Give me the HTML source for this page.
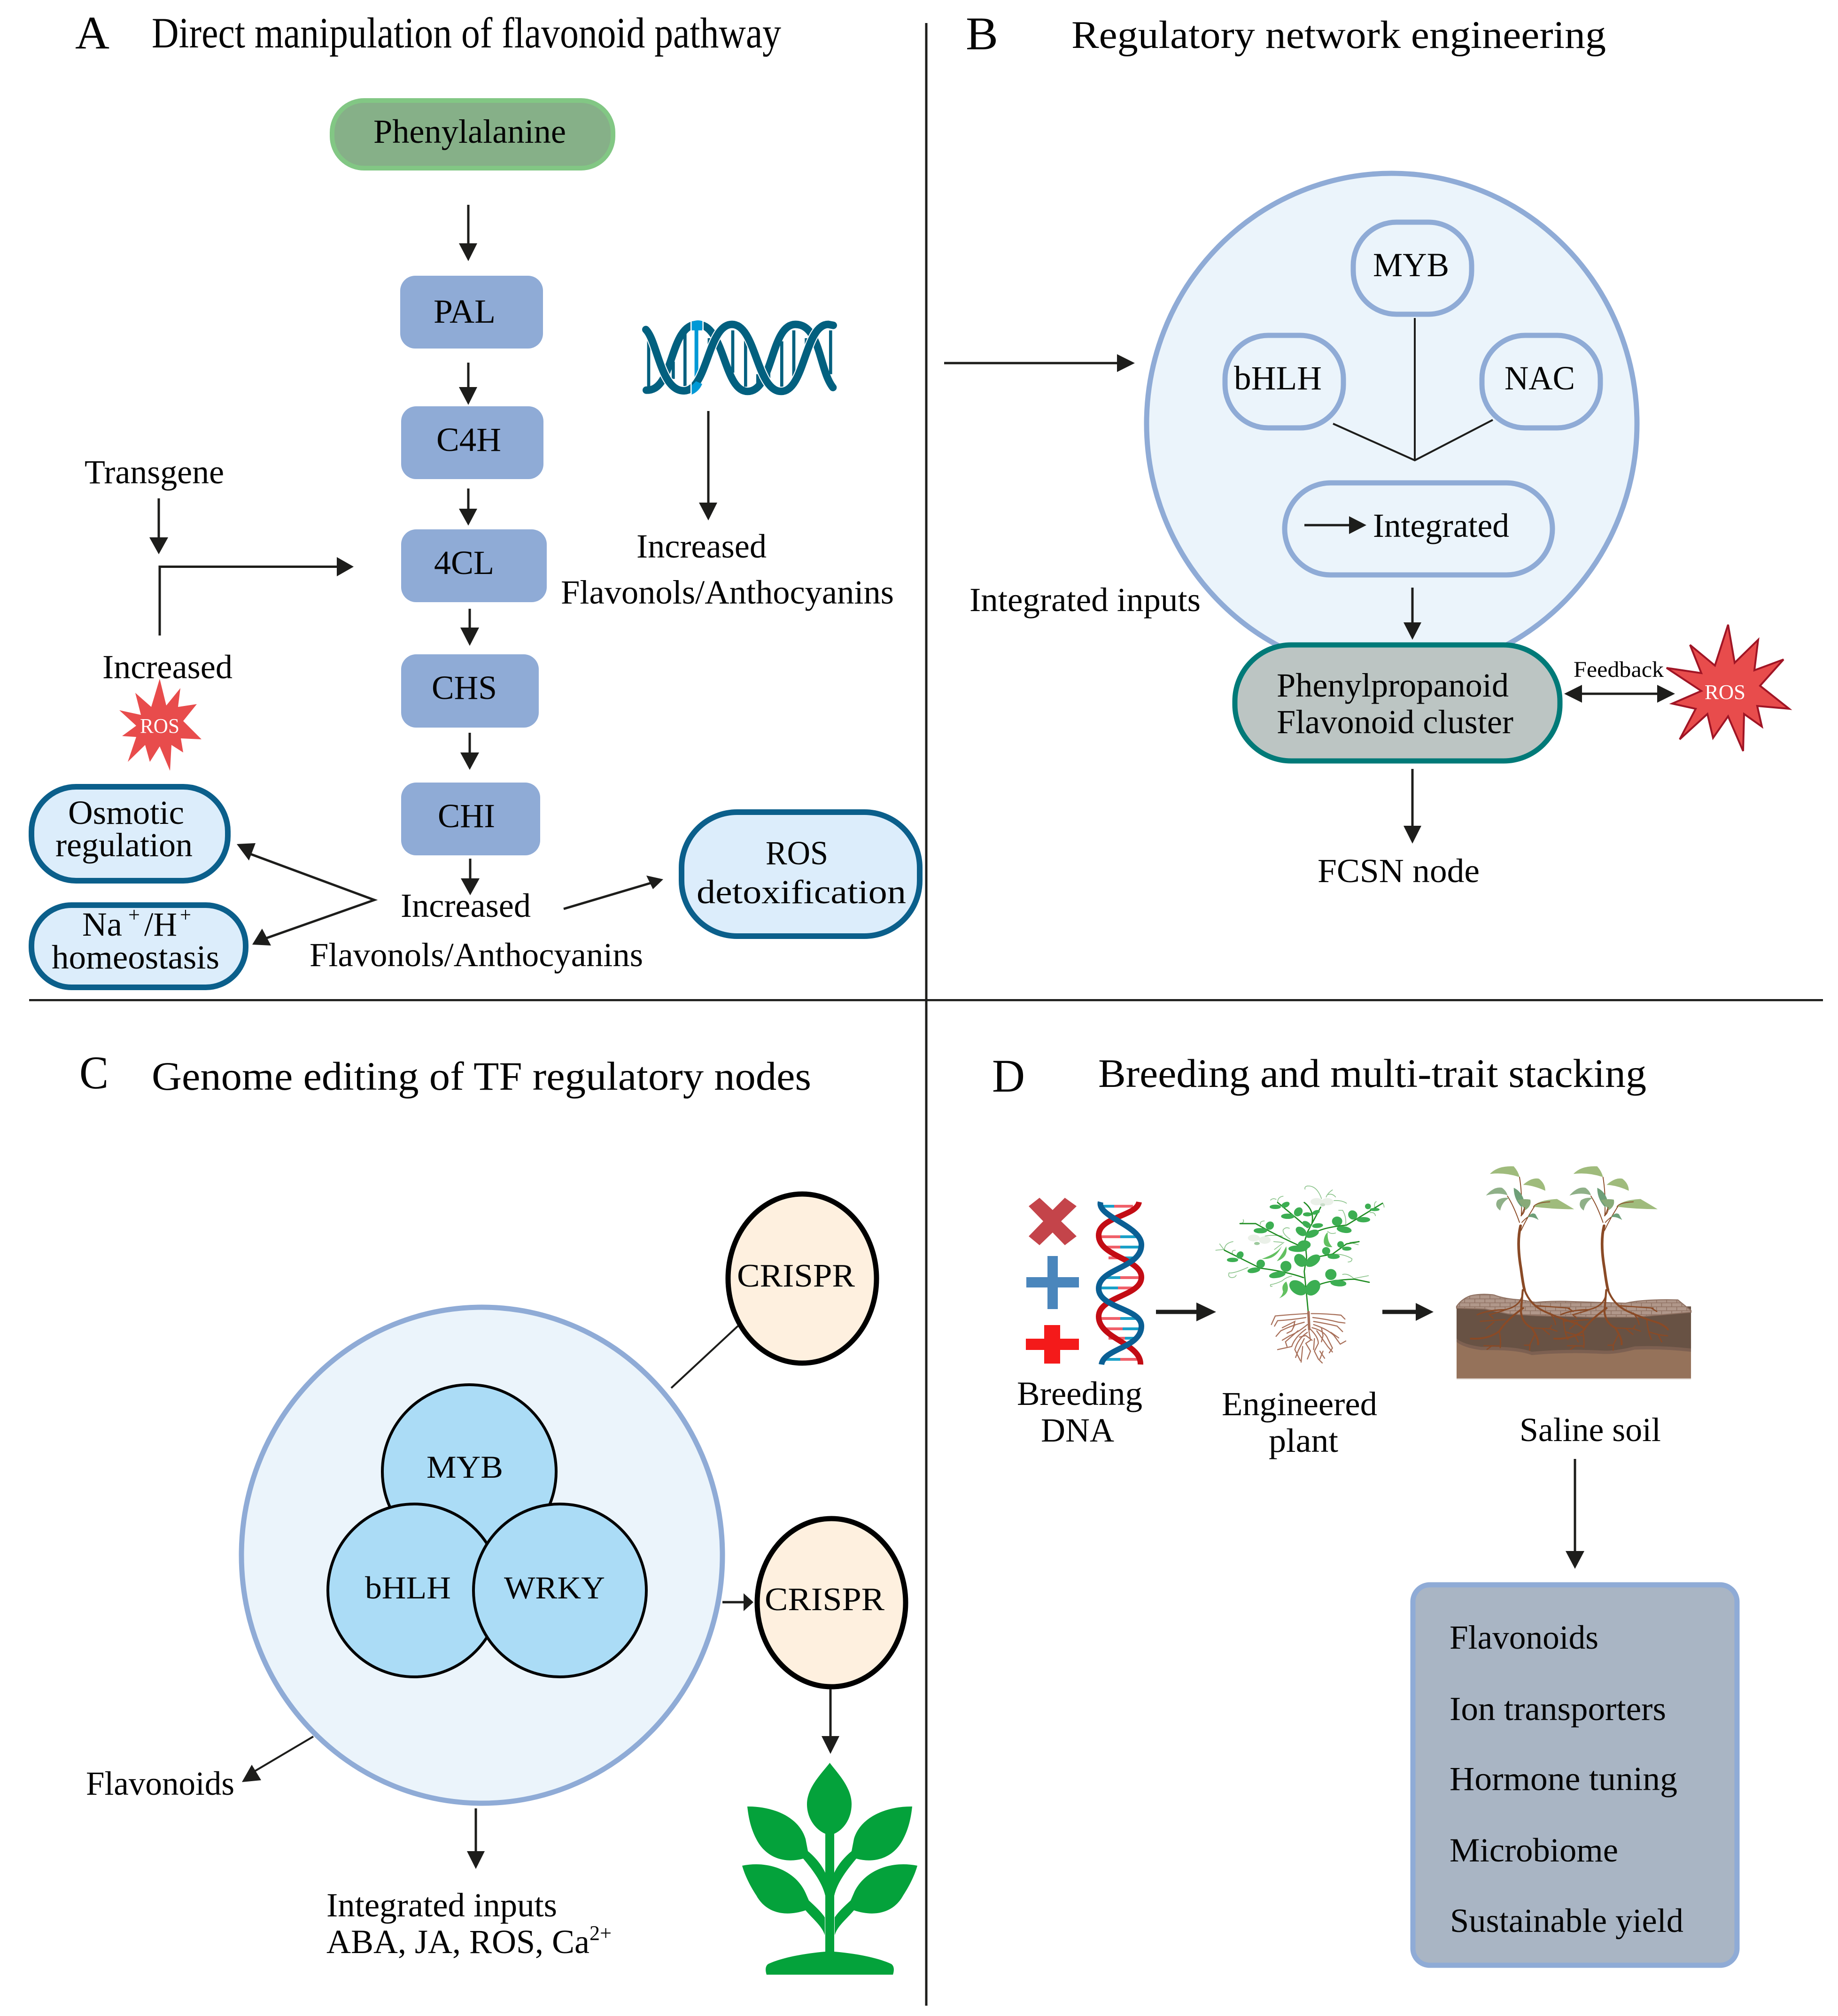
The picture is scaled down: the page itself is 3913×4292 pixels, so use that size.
<!DOCTYPE html>
<html><head><meta charset="utf-8"><title>Flavonoid pathway engineering</title>
<style>
html,body{margin:0;padding:0;background:#fff}
svg{display:block}
text{font-family:"Liberation Serif","Times New Roman",serif;fill:#050505;font-size:72px;transform:translate(-2px,1px)}
.t{font-size:86px}.L{font-size:100px}
.w{fill:#fff;font-size:44px}
.s{font-size:44px}
.ln{stroke:#1d1d1b;stroke-width:5;fill:none}
.h{fill:#1d1d1b}
.en{fill:#8fabd6}
.bl{fill:#dcedfb;stroke:#0b5f8b;stroke-width:12}
.rg{fill:#ebf4fb;stroke:#8fabd6;stroke-width:11}
.cr{fill:#fef0df;stroke:#000;stroke-width:11}
.tf{fill:#abdcf6;stroke:#000;stroke-width:6}
.lf{fill:#3cae52;stroke:#3cae52;stroke-width:6}
.st{stroke:#1f8c22;stroke-width:8;fill:none;stroke-linecap:round}
.td{stroke:#8cc48c;stroke-width:5;fill:none;stroke-linecap:round}
.rt{stroke:#a8705a;fill:none;stroke-width:7;stroke-linecap:round}
.r2{stroke:#8a4a26;fill:none;stroke-linecap:round}
</style></head>
<body>
<svg xmlns="http://www.w3.org/2000/svg" width="3913" height="4292" viewBox="0 0 3913 4292">
<defs>
<pattern id="brick" width="56" height="48" patternUnits="userSpaceOnUse">
<rect width="56" height="48" fill="#8f7162"/>
<rect x="2" y="2" width="52" height="20" fill="#b0978a"/>
<rect x="-26" y="26" width="52" height="20" fill="#b0978a"/>
<rect x="30" y="26" width="52" height="20" fill="#b0978a"/>
</pattern>
</defs>
<rect width="3913" height="4292" fill="#fff"/>

<!-- dividers -->
<rect x="1969.5" y="49" width="5" height="4221" fill="#1d1d1b"/>
<rect x="62" y="2127" width="3819" height="4.5" fill="#1d1d1b"/>

<!-- PANEL A -->
<text class="L" x="162" y="102" textLength="73" lengthAdjust="spacingAndGlyphs">A</text>
<text x="325" y="100" style="font-size:92px" textLength="1340" lengthAdjust="spacingAndGlyphs">Direct manipulation of flavonoid pathway</text>

<rect x="707" y="214" width="598" height="144" rx="68" fill="#86b088" stroke="#82c784" stroke-width="10"/>
<text x="797" y="303" textLength="410" lengthAdjust="spacingAndGlyphs">Phenylalanine</text>

<path class="ln" d="M997 436V525M997 772V830M997 1040V1090M1508 875V1075M338 1061V1150M1000 1296V1342M1000 1560V1608M1001 1828V1876"/>
<polygon class="h" points="977,518 1016,518 997,556"/>
<polygon class="h" points="977,824 1016,824 997,862"/>
<polygon class="h" points="977,1083 1016,1083 997,1119"/>
<polygon class="h" points="1488,1070 1527,1070 1508,1108"/>
<polygon class="h" points="318,1144 358,1144 338,1180"/>
<polygon class="h" points="980,1336 1020,1336 1000,1375"/>
<polygon class="h" points="980,1602 1020,1602 1000,1639"/>
<polygon class="h" points="981,1870 1021,1870 1001,1906"/>

<rect class="en" x="852" y="587" width="304" height="155" rx="32"/>
<text x="925" y="686" textLength="132" lengthAdjust="spacingAndGlyphs">PAL</text>
<rect class="en" x="854" y="865" width="303" height="155" rx="32"/>
<text x="931" y="959" textLength="138" lengthAdjust="spacingAndGlyphs">C4H</text>
<rect class="en" x="854" y="1127" width="310" height="155" rx="32"/>
<text x="926" y="1221" textLength="128" lengthAdjust="spacingAndGlyphs">4CL</text>
<rect class="en" x="854" y="1393" width="293" height="156" rx="32"/>
<text x="921" y="1487" textLength="139" lengthAdjust="spacingAndGlyphs">CHS</text>
<rect class="en" x="854" y="1666" width="296" height="155" rx="32"/>
<text x="934" y="1760" textLength="122" lengthAdjust="spacingAndGlyphs">CHI</text>

<!-- DNA logo -->
<g transform="translate(1300,620) scale(.3333)">
<g stroke="#02607f" stroke-width="20" fill="none">
<path d="M243 290V610M400 450V560M475 270V610M630 300V390M780 250V520M862 300V610M940 530V610M1010 480V560M1093 320V610M1170 250V590M1250 300V400M1405 250V530"/>
</g>
<path d="M548 240V590" stroke="#0099d6" stroke-width="24" fill="none"/>
<path d="M228 632C410 640 370 212 555 212C730 212 720 640 875 640C1040 640 1020 212 1180 212C1340 212 1330 500 1420 615" stroke="#02607f" stroke-width="48" fill="none" stroke-linecap="round"/>
<path d="M225 245C300 320 320 640 470 636C620 632 620 212 775 212C930 212 930 640 1090 640C1240 640 1240 212 1390 212L1422 218" stroke="#fff" stroke-width="60" fill="none"/>
<path d="M225 245C300 320 320 640 470 636C620 632 620 212 775 212C930 212 930 640 1090 640C1240 640 1240 212 1390 212L1422 218" stroke="#02607f" stroke-width="48" fill="none" stroke-linecap="round"/>
<rect x="510" y="186" width="8" height="480" fill="#fff"/>
<rect x="586" y="186" width="8" height="80" fill="#fff"/>
<path d="M518 196Q550 180 585 190V250H518Z" fill="#0099d6"/>
<path d="M518 602L545 575L585 592Q565 640 518 660Z" fill="#0099d6"/>
</g>

<text x="1357" y="1186" textLength="277" lengthAdjust="spacingAndGlyphs">Increased</text>
<text x="1196" y="1284" textLength="709" lengthAdjust="spacingAndGlyphs">Flavonols/Anthocyanins</text>
<text x="182" y="1028" textLength="297" lengthAdjust="spacingAndGlyphs">Transgene</text>

<path class="ln" d="M340 1353V1206.5H720"/>
<polygon class="h" points="717,1186 753,1206.5 717,1227"/>
<text x="220" y="1443" textLength="277" lengthAdjust="spacingAndGlyphs">Increased</text>

<polygon fill="#e84c4c" points="340,1445 354,1502 384,1465 379,1505 419,1499 390,1535 429,1574 385,1572 390,1602 365,1586 362,1641 340,1589 319,1622 309,1586 272,1622 290,1569 260,1567 290,1545 254,1512 300,1522 288,1475 322,1505"/>
<text class="w" x="300" y="1559" textLength="84" lengthAdjust="spacingAndGlyphs">ROS</text>

<rect class="bl" x="67" y="1675" width="418" height="200" rx="95"/>
<text x="147" y="1753" textLength="247" lengthAdjust="spacingAndGlyphs">Osmotic</text>
<text x="120" y="1822" textLength="292" lengthAdjust="spacingAndGlyphs">regulation</text>
<rect class="bl" x="67" y="1927" width="456" height="175" rx="85"/>
<text x="177" y="1991" textLength="85" lengthAdjust="spacingAndGlyphs">Na</text>
<text class="s" x="275" y="1961" textLength="25" lengthAdjust="spacingAndGlyphs">+</text>
<text x="309" y="1991" textLength="70" lengthAdjust="spacingAndGlyphs">/H</text>
<text class="s" x="385" y="1961" textLength="24" lengthAdjust="spacingAndGlyphs">+</text>
<text x="112" y="2061" textLength="357" lengthAdjust="spacingAndGlyphs">homeostasis</text>

<rect class="bl" x="1451" y="1729" width="507" height="264" rx="118"/>
<text x="1632" y="1839" textLength="133" lengthAdjust="spacingAndGlyphs">ROS</text>
<text x="1485" y="1922" textLength="446" lengthAdjust="spacingAndGlyphs">detoxification</text>

<path class="ln" d="M530 1817L797 1916L565 1998M1200 1935L1385 1880"/>
<polygon class="h" points="504,1797 544,1795 530,1832"/>
<polygon class="h" points="537,2011 558,1977 577,2013"/>
<polygon class="h" points="1412,1872 1376,1864 1390,1893"/>
<text x="855" y="1951" textLength="277" lengthAdjust="spacingAndGlyphs">Increased</text>
<text x="661" y="2056" textLength="710" lengthAdjust="spacingAndGlyphs">Flavonols/Anthocyanins</text>

<!-- PANEL B -->
<text class="L" x="2058" y="104" textLength="69" lengthAdjust="spacingAndGlyphs">B</text>
<text x="2283" y="101" style="font-size:84px" textLength="1138" lengthAdjust="spacingAndGlyphs">Regulatory network engineering</text>

<path class="ln" d="M2010 773H2385"/>
<polygon class="h" points="2378,754 2416,773 2378,792"/>

<ellipse class="rg" cx="2963" cy="902" rx="522" ry="533"/>
<rect class="rg" x="2881" y="473" width="252" height="196" rx="92"/>
<text x="2925" y="587" textLength="162" lengthAdjust="spacingAndGlyphs">MYB</text>
<rect class="rg" x="2608" y="714" width="252" height="197" rx="92"/>
<text x="2629" y="828" textLength="187" lengthAdjust="spacingAndGlyphs">bHLH</text>
<rect class="rg" x="3155" y="714" width="252" height="197" rx="92"/>
<text x="3205" y="828" textLength="150" lengthAdjust="spacingAndGlyphs">NAC</text>
<path class="ln" d="M3012 677V980M2838 902L3012 980L3178 894" style="stroke-width:4"/>
<rect class="rg" x="2735" y="1028" width="570" height="196" rx="98"/>
<path class="ln" d="M2777 1118H2880"/>
<polygon class="h" points="2872,1099 2909,1118 2872,1137"/>
<text x="2925" y="1142" textLength="290" lengthAdjust="spacingAndGlyphs">Integrated</text>
<path class="ln" d="M3007 1251V1330"/>
<polygon class="h" points="2988,1325 3026,1325 3007,1362"/>
<text x="2066" y="1300" textLength="492" lengthAdjust="spacingAndGlyphs">Integrated inputs</text>

<rect x="2629" y="1373" width="692" height="247" rx="120" fill="#bcc5c3" stroke="#007a78" stroke-width="11"/>
<text x="2720" y="1482" textLength="494" lengthAdjust="spacingAndGlyphs">Phenylpropanoid</text>
<text x="2720" y="1560" textLength="504" lengthAdjust="spacingAndGlyphs">Flavonoid cluster</text>

<path class="ln" d="M3360 1477H3535"/>
<polygon class="h" points="3330,1477 3368,1458 3368,1496"/>
<polygon class="h" points="3566,1477 3528,1458 3528,1496"/>
<text x="3352" y="1440" style="font-size:48px" textLength="192" lengthAdjust="spacingAndGlyphs">Feedback</text>
<polygon fill="#e84c4c" stroke="#a01525" stroke-width="4" points="3679,1330 3693,1411 3743,1362 3735,1427 3797,1404 3747,1460 3809,1509 3741,1503 3751,1547 3713,1520 3711,1599 3679,1525 3647,1571 3635,1520 3576,1574 3610,1509 3560,1498 3622,1471 3548,1422 3622,1433 3598,1373 3651,1417"/>
<text class="w" x="3631" y="1487" textLength="87" lengthAdjust="spacingAndGlyphs">ROS</text>
<path class="ln" d="M3007 1637V1765"/>
<polygon class="h" points="2988,1758 3026,1758 3007,1796"/>
<text x="2807" y="1877" textLength="345" lengthAdjust="spacingAndGlyphs">FCSN node</text>

<!-- PANEL C -->
<text class="L" x="171" y="2316" textLength="62" lengthAdjust="spacingAndGlyphs">C</text>
<text class="t" x="325" y="2319" textLength="1404" lengthAdjust="spacingAndGlyphs">Genome editing of TF regulatory nodes</text>

<ellipse class="rg" cx="1026" cy="3311" rx="512" ry="528"/>
<circle class="tf" cx="999" cy="3133" r="185"/>
<text x="910" y="3145" style="font-size:68px" textLength="163" lengthAdjust="spacingAndGlyphs">MYB</text>
<circle class="tf" cx="882" cy="3386" r="184"/>
<text x="779" y="3402" style="font-size:68px" textLength="183" lengthAdjust="spacingAndGlyphs">bHLH</text>
<circle class="tf" cx="1192" cy="3386" r="184"/>
<text x="1075" y="3402" style="font-size:68px" textLength="215" lengthAdjust="spacingAndGlyphs">WRKY</text>

<ellipse class="cr" cx="1708" cy="2722" rx="158" ry="180"/>
<text x="1571" y="2738" style="font-size:70px" textLength="251" lengthAdjust="spacingAndGlyphs">CRISPR</text>
<path class="ln" d="M1429 2955L1571 2823" style="stroke-width:4"/>

<path class="ln" d="M1538 3411H1590"/>
<polygon class="h" points="1583,3392 1604,3411 1583,3430"/>
<ellipse class="cr" cx="1770" cy="3412" rx="158" ry="179"/>
<text x="1630" y="3427" style="font-size:70px" textLength="255" lengthAdjust="spacingAndGlyphs">CRISPR</text>
<path class="ln" d="M1768 3596V3705"/>
<polygon class="h" points="1749,3696 1787,3696 1768,3734"/>

<!-- green plant -->
<g fill="#04a23b">
<path d="M1766.5 3753C1750 3775 1718 3805 1718 3841C1718 3875 1740 3897 1757 3904V4155C1700 4160 1660 4170 1636 4181C1629 4185 1629 4195 1632 4204H1901C1904 4195 1904 4185 1897 4181C1873 4170 1833 4160 1776 4155V3904C1793 3897 1813 3875 1813 3841C1813 3805 1783 3775 1766.5 3753Z"/>
<path d="M1591 3846C1640 3845 1700 3865 1715 3915L1720 3941C1737 3955 1750 3972 1757 3987V4036C1750 4005 1725 3975 1710 3957C1670 3968 1630 3955 1610 3915C1597 3890 1593 3865 1591 3846Z"/>
<path d="M1580 3972C1640 3960 1695 3985 1715 4030L1722 4046C1735 4058 1748 4070 1756 4082V4120C1750 4100 1730 4085 1715 4067C1670 4082 1630 4072 1610 4035C1595 4012 1585 3990 1580 3972Z"/>
<path d="M1942 3846C1893 3845 1833 3865 1818 3915L1813 3941C1796 3955 1783 3972 1776 3987V4036C1783 4005 1808 3975 1823 3957C1863 3968 1903 3955 1923 3915C1936 3890 1940 3865 1942 3846Z"/>
<path d="M1953 3972C1893 3960 1838 3985 1818 4030L1811 4046C1798 4058 1785 4070 1777 4082V4120C1783 4100 1803 4085 1818 4067C1863 4082 1903 4072 1923 4035C1938 4012 1948 3990 1953 3972Z"/>
</g>

<text x="185" y="3820" textLength="316" lengthAdjust="spacingAndGlyphs">Flavonoids</text>
<path class="ln" d="M667 3697L530 3778" style="stroke-width:4"/>
<polygon class="h" points="515,3794 536,3757 556,3790"/>
<path class="ln" d="M1013 3850V3950"/>
<polygon class="h" points="994,3941 1032,3941 1013,3979"/>
<text x="697" y="4079" textLength="491" lengthAdjust="spacingAndGlyphs">Integrated inputs</text>
<text x="697" y="4157" textLength="560" lengthAdjust="spacingAndGlyphs">ABA, JA, ROS, Ca</text>
<text class="s" x="1257" y="4129" textLength="47" lengthAdjust="spacingAndGlyphs">2+</text>

<!-- PANEL D -->
<text class="L" x="2114" y="2323" textLength="70" lengthAdjust="spacingAndGlyphs">D</text>
<text class="t" x="2340" y="2313" textLength="1167" lengthAdjust="spacingAndGlyphs">Breeding and multi-trait stacking</text>

<polygon fill="#c4444a" points="2213,2550 2241,2576 2267,2550 2292,2568 2259,2600 2292,2632 2267,2651 2241,2624 2213,2651 2190,2632 2221,2600 2190,2568"/>
<path fill="#4a86bc" d="M2230 2674H2252V2719H2297V2741H2252V2787H2230V2741H2185V2719H2230Z"/>
<path fill="#f41a1a" d="M2223 2821H2257V2850H2297V2874H2257V2903H2223V2874H2184V2850H2223Z"/>

<!-- helix -->
<g stroke-width="6">
<path stroke="#1aa0c8" d="M2345 2568H2372M2385 2633H2425M2385 2655H2430M2395 2678H2420M2345 2720H2385M2345 2742H2380M2385 2807H2425M2390 2829H2430M2395 2849H2420M2345 2894H2385"/>
<path stroke="#f0606a" d="M2372 2568H2412M2345 2633H2385M2345 2655H2385M2360 2678H2395M2385 2720H2425M2380 2742H2420M2345 2807H2385M2345 2829H2390M2360 2849H2395M2385 2894H2425"/>
</g>
<path d="M2425 2559C2420 2590 2339 2590 2339 2630C2339 2675 2430 2680 2430 2719C2430 2760 2339 2760 2339 2803C2339 2850 2430 2860 2428 2905" fill="none" stroke="#c30c14" stroke-width="12"/>
<path d="M2343 2559C2335 2590 2430 2610 2430 2650C2430 2700 2339 2700 2339 2743C2339 2785 2430 2785 2430 2823C2430 2870 2350 2870 2345 2905" fill="none" stroke="#0a5f94" stroke-width="12"/>

<path d="M2461 2793H2550" stroke="#1d1d1b" stroke-width="9"/>
<polygon class="h" points="2547,2773 2589,2793 2547,2813"/>
<path d="M2943 2793H3018" stroke="#1d1d1b" stroke-width="9"/>
<polygon class="h" points="3014,2774 3052,2793 3014,2812"/>

<text x="2167" y="2990" textLength="267" lengthAdjust="spacingAndGlyphs">Breeding</text>
<text x="2218" y="3068" textLength="156" lengthAdjust="spacingAndGlyphs">DNA</text>
<text x="2603" y="3012" textLength="331" lengthAdjust="spacingAndGlyphs">Engineered</text>
<text x="2703" y="3090" textLength="148" lengthAdjust="spacingAndGlyphs">plant</text>
<text x="3237" y="3067" textLength="301" lengthAdjust="spacingAndGlyphs">Saline soil</text>

<!-- pea plant -->
<g transform="translate(2550,2480) scale(.3333)">
<g class="td">
<path d="M790 215Q760 130 700 135Q680 140 685 155M820 205Q830 180 860 160M830 190Q860 180 880 205M870 228Q920 225 950 245"/>
<path d="M510 240Q510 205 545 200M500 220Q480 210 465 225M1180 245Q1190 255 1190 270M1130 270Q1125 240 1140 235M1100 305Q1130 300 1135 325"/>
<path d="M945 385Q950 330 925 290L900 290M270 375Q300 370 290 350M400 380Q395 360 425 358"/>
<path d="M590 475Q540 440 545 415Q560 395 585 405M430 455Q480 445 540 455"/>
<path d="M170 545Q170 500 225 490M115 545L170 540M225 575Q210 545 240 545M140 505L170 545"/>
<path d="M320 655Q230 695 200 690Q190 715 215 720Q240 720 245 705M540 495L485 490M490 540L550 495"/>
<path d="M600 710Q560 720 540 740Q500 760 465 765Q460 780 475 775M1000 730Q960 690 925 700M1000 725L1090 708"/>
<path d="M870 570Q940 570 985 600Q985 620 960 620M1030 490L970 495L1025 510M830 425Q850 445 880 435"/>
</g>
<g class="st">
<path d="M705 935L695 830L680 680L695 590L685 480L700 430L785 270"/>
<path d="M675 720Q560 680 400 660L260 590L170 545"/>
<path d="M680 530Q500 450 370 375L270 375"/>
<path d="M700 400L630 340L510 240"/>
<path d="M730 370Q745 290 680 240"/>
<path d="M720 450Q780 400 950 385L1180 245"/>
<path d="M775 765Q850 735 1000 730L1095 750"/>
<path d="M780 585L860 570L950 505L1030 490"/>
</g>
<g class="lf">
<ellipse cx="640" cy="785" rx="58" ry="38" transform="rotate(35 640 785)"/>
<ellipse cx="735" cy="785" rx="52" ry="38" transform="rotate(-50 735 785)"/>
<ellipse cx="655" cy="610" rx="42" ry="32" transform="rotate(50 655 610)"/>
<ellipse cx="735" cy="612" rx="50" ry="28" transform="rotate(-35 735 612)"/>
<ellipse cx="640" cy="535" rx="58" ry="18"/>
<ellipse cx="680" cy="510" rx="38" ry="25"/>
<ellipse cx="660" cy="425" rx="35" ry="22" transform="rotate(35 660 425)"/>
<ellipse cx="730" cy="440" rx="42" ry="20" transform="rotate(-20 730 440)"/>
<ellipse cx="695" cy="380" rx="27" ry="15" transform="rotate(30 695 380)"/>
<ellipse cx="765" cy="388" rx="32" ry="12" transform="rotate(-5 765 388)"/>
<ellipse cx="495" cy="268" rx="33" ry="11"/>
<ellipse cx="560" cy="255" rx="25" ry="14" transform="rotate(-25 560 255)"/>
<ellipse cx="575" cy="328" rx="40" ry="14"/>
<ellipse cx="642" cy="300" rx="28" ry="22" transform="rotate(-50 642 300)"/>
<ellipse cx="700" cy="316" rx="25" ry="10"/>
<ellipse cx="755" cy="303" rx="22" ry="10" transform="rotate(-20 755 303)"/>
<ellipse cx="890" cy="360" rx="30" ry="27"/>
<ellipse cx="935" cy="413" rx="45" ry="18" transform="rotate(10 935 413)"/>
<ellipse cx="990" cy="320" rx="28" ry="25" transform="rotate(45 990 320)"/>
<ellipse cx="1058" cy="350" rx="40" ry="14"/>
<ellipse cx="1087" cy="265" rx="16" ry="15"/>
<ellipse cx="1130" cy="285" rx="28" ry="7"/>
<ellipse cx="460" cy="388" rx="25" ry="22" transform="rotate(-45 460 388)"/>
<ellipse cx="400" cy="420" rx="40" ry="14"/>
<ellipse cx="270" cy="576" rx="22" ry="18" transform="rotate(-50 270 576)"/>
<ellipse cx="222" cy="607" rx="33" ry="11"/>
<ellipse cx="402" cy="632" rx="24" ry="24"/>
<ellipse cx="358" cy="673" rx="38" ry="14" transform="rotate(-10 358 673)"/>
<ellipse cx="563" cy="648" rx="32" ry="32"/>
<ellipse cx="508" cy="702" rx="50" ry="17" transform="rotate(-10 508 702)"/>
<ellipse cx="850" cy="700" rx="33" ry="32"/>
<ellipse cx="898" cy="755" rx="48" ry="18" transform="rotate(5 898 755)"/>
<ellipse cx="820" cy="550" rx="23" ry="22"/>
<ellipse cx="868" cy="585" rx="36" ry="13"/>
<ellipse cx="912" cy="508" rx="18" ry="18"/>
<ellipse cx="952" cy="535" rx="27" ry="10"/>
</g>
<g fill="#62c060">
<path d="M410 600Q510 590 535 510Q515 580 410 600ZM410 600Q500 610 540 510Q520 560 410 600Z"/>
<path d="M505 615Q580 590 565 520Q540 570 505 615Z"/>
<path d="M520 852Q600 820 565 745Q530 770 545 810Q540 835 520 852Z"/>
<path d="M860 525Q800 530 805 480Q810 445 830 430Q825 490 860 525Z"/>
</g>
<g fill="#eaf0e8">
<ellipse cx="760" cy="235" rx="40" ry="23"/><ellipse cx="828" cy="235" rx="38" ry="23"/>
<ellipse cx="358" cy="467" rx="38" ry="22"/><ellipse cx="428" cy="480" rx="38" ry="24"/>
</g>
<ellipse cx="378" cy="502" rx="18" ry="10" fill="#9cc99c"/>
<ellipse cx="798" cy="255" rx="16" ry="10" fill="#c8dcc8"/>
<g class="rt">
<path style="stroke-width:16" d="M707 940L712 1050"/>
<path d="M700 950Q600 955 495 965L470 1020M690 975Q600 990 510 995L490 1030M680 1005Q600 1025 530 1060L500 1095"/>
<path d="M725 950Q820 950 915 960L940 985M735 975Q820 985 900 1005L940 1010M740 1000Q830 1015 890 1030L925 1065"/>
<path d="M700 1020Q640 1070 590 1090L540 1120M690 1050Q620 1100 600 1160L510 1180M700 1070Q640 1110 620 1180L655 1250"/>
<path d="M720 1050Q770 1100 770 1140L745 1190L770 1240L795 1265M730 1040Q810 1060 830 1110L860 1170L840 1200M740 1020Q830 1050 870 1090L910 1145L945 1125"/>
<path d="M710 1060L720 1120L690 1140L720 1190L700 1240M650 1100L690 1090L730 1120M670 1160L660 1260M780 1190L810 1235M540 1040L620 1000L610 1040M850 1070L900 1105"/>
<path d="M620 1020L600 1060L570 1075M790 1040L800 1090L790 1130M640 1060L560 1130L570 1160M760 1060L830 1160L860 1195M680 1110L640 1190L625 1230M745 1110L740 1180M800 1190L780 1240"/>
</g>
</g>

<!-- soil -->
<g transform="translate(3000,2420) scale(.3839,.3509)">
<path fill="#95725a" d="M263 1230H1563V1470H263Z"/>
<rect x="263" y="1466" width="1300" height="6" fill="#d8cdc6"/>
<path fill="#7d6051" d="M263 1030H1563V1305Q1400 1285 1250 1292Q1150 1320 1080 1318Q870 1305 680 1325Q600 1290 400 1295Q300 1280 263 1245Z"/>
<path fill="#685244" d="M263 1030H1563V1285Q1400 1265 1250 1272Q1150 1300 1080 1298Q870 1285 680 1305Q600 1270 400 1275Q300 1260 263 1225Z"/>
<path fill="url(#brick)" stroke="#8f7162" stroke-width="6" d="M263 1030Q290 985 340 965Q400 950 470 960Q530 985 620 990L700 1005Q800 995 900 1000L1200 1010Q1300 985 1490 990L1563 1055V1065L1250 1095L1000 1095L700 1085L550 1075L420 1045L263 1040Z"/>
<defs>
<g id="sd">
<g class="r2" style="stroke-width:15">
<path d="M618 540Q595 640 620 800Q632 900 640 930"/>
</g>
<g class="r2" style="stroke-width:7">
<path style="stroke-width:8" d="M630 950Q620 1030 530 1050Q440 1050 378 1080"/>
<path style="stroke-width:11" d="M632 1040Q540 1110 500 1180Q440 1230 342 1225"/>
<path d="M500 1180Q510 1240 505 1280M505 1270L415 1268M460 1268L432 1290M530 1110L395 1120M470 1125L428 1165M525 1055L445 1080L465 1100"/>
<path style="stroke-width:11" d="M630 930L620 1060Q625 1130 680 1160Q720 1230 715 1260"/>
<path d="M680 1160L780 1165L820 1180M740 1165L778 1200M790 1145L780 1165M695 1205L670 1260L668 1295M670 1265L640 1265"/>
<path style="stroke-width:11" d="M640 930Q670 1020 750 1060Q830 1100 920 1130Q960 1150 972 1170"/>
<path d="M780 1070Q810 1110 812 1140M855 1110Q860 1180 880 1230M870 1185Q920 1205 970 1208M920 1205L938 1245M700 1025L890 1040M880 1040L910 1060"/>
<path style="stroke-width:5" d="M612 520Q580 420 545 360M622 480Q628 350 612 245M620 570Q650 500 685 440Q700 400 780 395M620 480Q645 460 640 420M625 520Q650 490 670 480"/>
</g>
<path fill="#9fbb7c" d="M448 226Q490 175 580 180Q605 210 612 245Q530 215 448 226Z"/>
<path fill="#9fbb7c" d="M632 292Q680 245 720 255Q755 285 755 328Q690 295 632 292Z"/>
<path fill="#8fb088" d="M426 357Q470 300 515 310Q540 330 545 355Q490 335 426 357Z"/>
<path fill="#8fb088" d="M505 448Q470 420 490 385Q520 365 555 372Q515 395 505 448Z"/>
<path fill="#6e9f78" d="M580 310Q620 330 635 380Q630 410 625 430Q580 380 580 310Z"/>
<path fill="#88aa78" d="M600 385Q640 375 672 382Q680 420 645 445Q620 410 600 385Z"/>
<path fill="#9fbb7c" d="M690 425Q710 385 820 378Q870 410 915 440Q800 440 690 425Z"/>
<path fill="#6e9f78" d="M655 490Q680 455 700 470L718 505Q680 480 655 490Z"/>
<path class="r2" style="stroke-width:5" d="M690 425Q700 400 780 395M622 480L640 430"/>
</g>
</defs>
<use href="#sd"/>
<use href="#sd" x="463"/>
</g>

<path class="ln" d="M3353 3106V3310"/>
<polygon class="h" points="3333,3302 3373,3302 3353,3340"/>
<rect x="3008" y="3374" width="690" height="810" rx="36" fill="#a9b5c4" stroke="#8fabd6" stroke-width="11"/>
<text x="3088" y="3509" textLength="317" lengthAdjust="spacingAndGlyphs">Flavonoids</text>
<text x="3088" y="3661" textLength="461" lengthAdjust="spacingAndGlyphs">Ion transporters</text>
<text x="3088" y="3810" textLength="485" lengthAdjust="spacingAndGlyphs">Hormone tuning</text>
<text x="3088" y="3962" textLength="359" lengthAdjust="spacingAndGlyphs">Microbiome</text>
<text x="3089" y="4112" textLength="497" lengthAdjust="spacingAndGlyphs">Sustainable yield</text>
</svg>
</body></html>
